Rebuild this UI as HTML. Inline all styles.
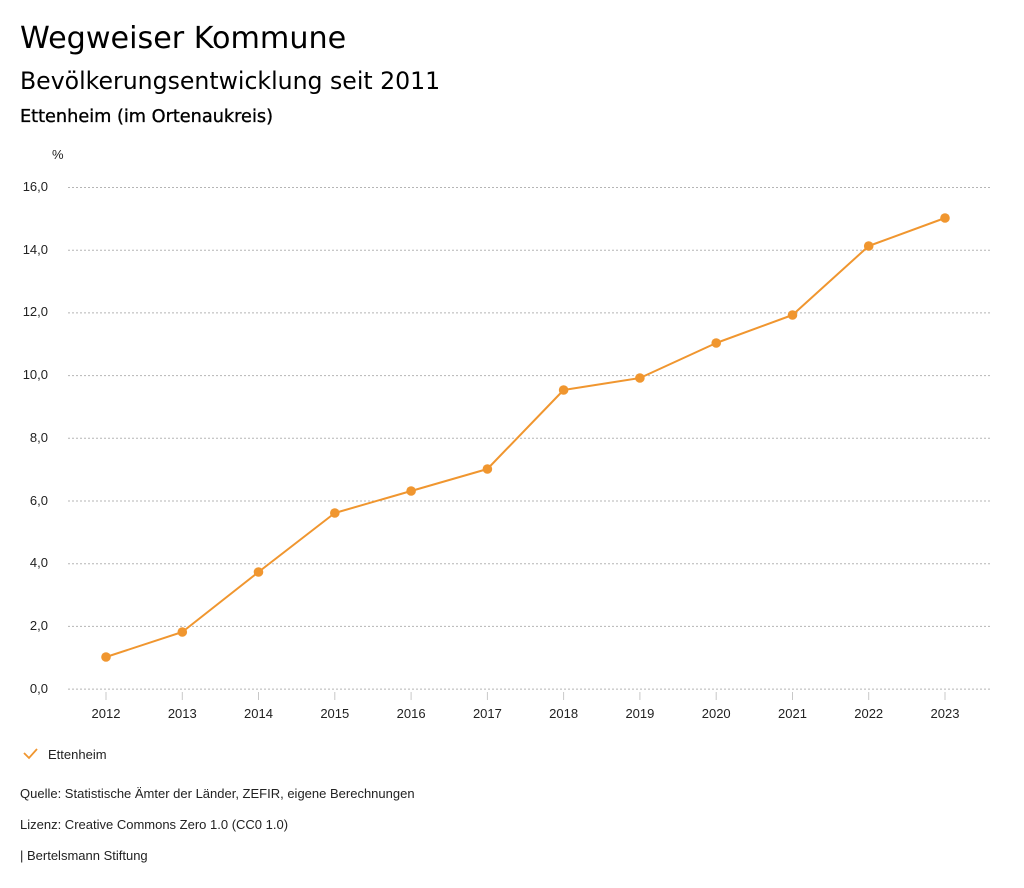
<!DOCTYPE html>
<html><head><meta charset="utf-8"><style>
html,body{margin:0;padding:0;background:#fff;width:1024px;height:888px;overflow:hidden}
svg{display:block}
.t{font-family:"DejaVu Sans",sans-serif;fill:#000}
.l{font-family:"Liberation Sans",sans-serif;fill:#222;font-size:13px}
</style></head><body>
<svg width="1024" height="888" viewBox="0 0 1024 888" xmlns="http://www.w3.org/2000/svg">
<text class="t" x="20" y="48" font-size="30.2">Wegweiser Kommune</text>
<text class="t" x="20" y="89" font-size="23.6">Bevölkerungsentwicklung seit 2011</text>
<text class="t" x="20" y="122" font-size="17.7" stroke="#000" stroke-width="0.35">Ettenheim (im Ortenaukreis)</text>
<text class="l" x="52" y="159" font-size="12">%</text>
<g stroke="#b5b5b5" stroke-width="1" stroke-dasharray="2,2">
<line x1="68" x2="990" y1="187.5" y2="187.5"/>
<line x1="68" x2="990" y1="250.2" y2="250.2"/>
<line x1="68" x2="990" y1="312.9" y2="312.9"/>
<line x1="68" x2="990" y1="375.6" y2="375.6"/>
<line x1="68" x2="990" y1="438.3" y2="438.3"/>
<line x1="68" x2="990" y1="501" y2="501"/>
<line x1="68" x2="990" y1="563.7" y2="563.7"/>
<line x1="68" x2="990" y1="626.4" y2="626.4"/>
<line x1="68" x2="990" y1="689.1" y2="689.1"/>
</g>
<g class="l" text-anchor="end">
<text x="48" y="191">16,0</text>
<text x="48" y="254">14,0</text>
<text x="48" y="316">12,0</text>
<text x="48" y="379">10,0</text>
<text x="48" y="442">8,0</text>
<text x="48" y="505">6,0</text>
<text x="48" y="567">4,0</text>
<text x="48" y="630">2,0</text>
<text x="48" y="693">0,0</text>
</g>
<g stroke="#c8c8c8" stroke-width="1">
<line x1="106" x2="106" y1="692" y2="700"/>
<line x1="182.3" x2="182.3" y1="692" y2="700"/>
<line x1="258.5" x2="258.5" y1="692" y2="700"/>
<line x1="334.8" x2="334.8" y1="692" y2="700"/>
<line x1="411.1" x2="411.1" y1="692" y2="700"/>
<line x1="487.4" x2="487.4" y1="692" y2="700"/>
<line x1="563.6" x2="563.6" y1="692" y2="700"/>
<line x1="639.9" x2="639.9" y1="692" y2="700"/>
<line x1="716.2" x2="716.2" y1="692" y2="700"/>
<line x1="792.5" x2="792.5" y1="692" y2="700"/>
<line x1="868.7" x2="868.7" y1="692" y2="700"/>
<line x1="945" x2="945" y1="692" y2="700"/>
</g>
<g class="l" text-anchor="middle">
<text x="106" y="718">2012</text>
<text x="182.3" y="718">2013</text>
<text x="258.5" y="718">2014</text>
<text x="334.8" y="718">2015</text>
<text x="411.1" y="718">2016</text>
<text x="487.4" y="718">2017</text>
<text x="563.6" y="718">2018</text>
<text x="639.9" y="718">2019</text>
<text x="716.2" y="718">2020</text>
<text x="792.5" y="718">2021</text>
<text x="868.7" y="718">2022</text>
<text x="945" y="718">2023</text>
</g>
<polyline fill="none" stroke="#f0962f" stroke-width="2" stroke-linejoin="round" points="106,657 182.3,632 258.5,572 334.8,513 411.1,491 487.4,469 563.6,390 639.9,378 716.2,343 792.5,315 868.7,246 945,218"/>
<g fill="#f0962f">
<circle cx="106" cy="657" r="4.8"/>
<circle cx="182.3" cy="632" r="4.8"/>
<circle cx="258.5" cy="572" r="4.8"/>
<circle cx="334.8" cy="513" r="4.8"/>
<circle cx="411.1" cy="491" r="4.8"/>
<circle cx="487.4" cy="469" r="4.8"/>
<circle cx="563.6" cy="390" r="4.8"/>
<circle cx="639.9" cy="378" r="4.8"/>
<circle cx="716.2" cy="343" r="4.8"/>
<circle cx="792.5" cy="315" r="4.8"/>
<circle cx="868.7" cy="246" r="4.8"/>
<circle cx="945" cy="218" r="4.8"/>
</g>
<polyline fill="none" stroke="#f0962f" stroke-width="1.8" points="24,753 29,758 37,749"/>
<text class="l" x="48" y="759">Ettenheim</text>
<text class="l" x="20" y="798">Quelle: Statistische Ämter der Länder, ZEFIR, eigene Berechnungen</text>
<text class="l" x="20" y="829">Lizenz: Creative Commons Zero 1.0 (CC0 1.0)</text>
<text class="l" x="20" y="860">| Bertelsmann Stiftung</text>
</svg>
</body></html>
